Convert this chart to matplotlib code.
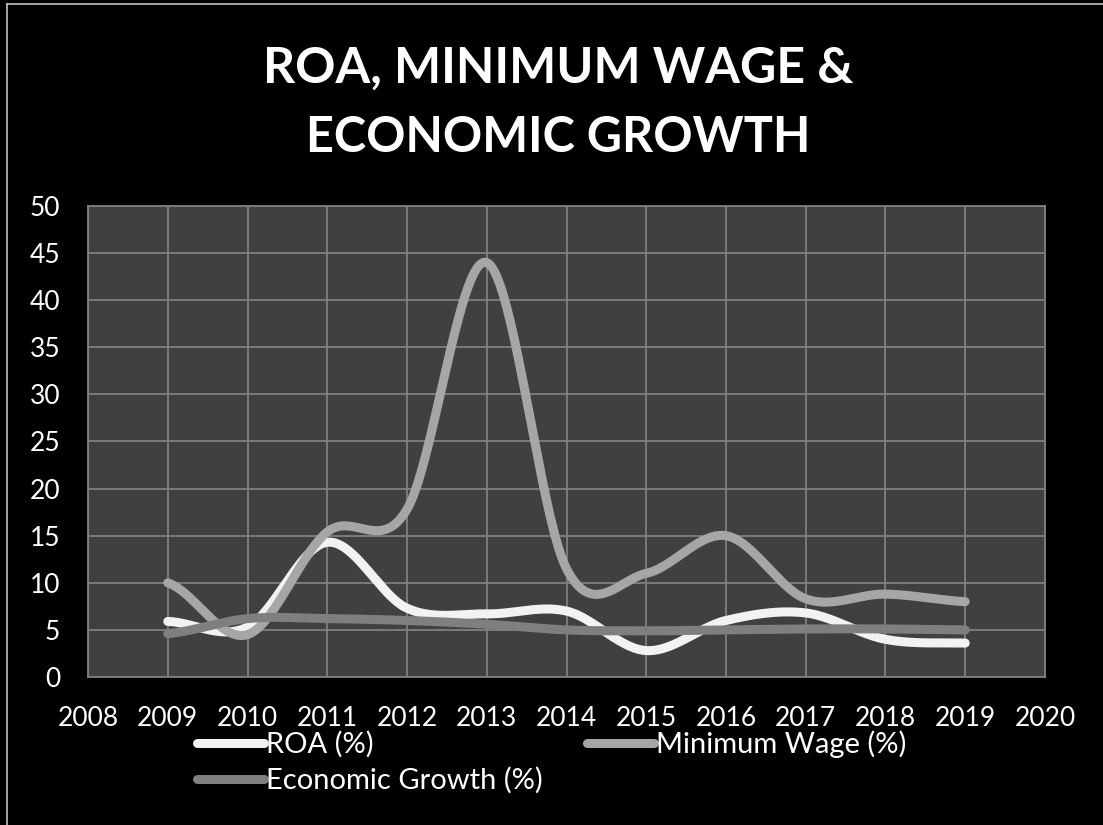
import numpy as np
import matplotlib.pyplot as plt
from matplotlib.lines import Line2D

# Annual series, 2009-2019
years = [2009, 2010, 2011, 2012, 2013, 2014, 2015, 2016, 2017, 2018, 2019]
roa = [5.9, 5.3, 14.3, 7.3, 6.7, 7.0, 2.8, 6.0, 6.8, 4.0, 3.6]
min_wage = [10.0, 4.5, 15.4, 17.8, 44.0, 11.5, 11.0, 15.0, 8.3, 8.8, 8.0]
econ_growth = [4.6, 6.2, 6.2, 6.0, 5.6, 5.0, 4.9, 5.0, 5.1, 5.1, 5.0]

series_names = ["ROA (%)", "Minimum Wage (%)", "Economic Growth (%)"]
series_colors = ["#f2f2f2", "#a6a6a6", "#7f7f7f"]


def smooth(x, y, steps=40):
    # Catmull-Rom style smoothing (like spreadsheet "smoothed line")
    x = np.asarray(x, float)
    y = np.asarray(y, float)
    n = len(y)
    m = np.empty(n)
    m[1:-1] = (y[2:] - y[:-2]) / 2
    m[0] = (y[1] - y[0]) / 2
    m[-1] = (y[-1] - y[-2]) / 2
    xs, ys = [], []
    for i in range(n - 1):
        t = np.linspace(0, 1, steps, endpoint=(i == n - 2))
        h00 = 2 * t**3 - 3 * t**2 + 1
        h10 = t**3 - 2 * t**2 + t
        h01 = -2 * t**3 + 3 * t**2
        h11 = t**3 - t**2
        ys.append(h00 * y[i] + h10 * m[i] + h01 * y[i + 1] + h11 * m[i + 1])
        xs.append(x[i] + t * (x[i + 1] - x[i]))
    return np.concatenate(xs), np.concatenate(ys)


plt.rcParams["font.family"] = ["Lato", "DejaVu Sans"]

fig = plt.figure(figsize=(11.03, 8.25), dpi=100, facecolor="black")
ax = fig.add_axes([0.0798, 0.1794, 0.8676, 0.5709])
ax.set_facecolor("#404040")

lines = []
for i, (vals, name, col) in enumerate(zip([roa, min_wage, econ_growth], series_names, series_colors)):
    sx, sy = smooth(years, vals)
    ln, = ax.plot(sx, sy, color=col, lw=6.5, solid_capstyle="round", label=name, zorder=3 + i)
    lines.append(ln)

ax.set_xlim(2008, 2020)
ax.set_ylim(0, 50)
ax.set_xticks(range(2008, 2021))
ax.set_yticks(range(0, 51, 5))
ax.grid(True, color="#808080", lw=1.3)
ax.set_axisbelow(True)
for sp in ax.spines.values():
    sp.set_color("#808080")
    sp.set_linewidth(1.3)
ax.tick_params(axis="x", length=0, pad=21, colors="white", labelsize=19)
ax.tick_params(axis="y", length=0, pad=20, colors="white", labelsize=19)

# Title
fig.text(0.506, 0.900, "ROA, MINIMUM WAGE &", ha="center", va="baseline",
         color="white", fontsize=36, fontweight="bold")
fig.text(0.506, 0.816, "ECONOMIC GROWTH", ha="center", va="baseline",
         color="white", fontsize=35, fontweight="bold")

# Legend below the plot, filled row by row
handles = [Line2D([], [], color=c, lw=6.5, solid_capstyle="round") for c in series_colors]
order = [0, 2, 1]
leg = fig.legend([handles[k] for k in order], [series_names[k] for k in order],
                 loc="upper left", bbox_to_anchor=(0.1786, 0.115),
                 ncol=2, frameon=False, fontsize=21, handlelength=2.3, handletextpad=0.07,
                 columnspacing=1.5, labelspacing=0.32, borderpad=0, borderaxespad=0)
for t in leg.get_texts():
    t.set_color("white")

# Thin frame at the top-left edge
fig.add_artist(Line2D([7 / 1103, 7 / 1103], [0, 1 - 4 / 825], color="#c0c0c0", lw=1.2))
fig.add_artist(Line2D([7 / 1103, 1], [1 - 4 / 825, 1 - 4 / 825], color="#c0c0c0", lw=1.2))

fig.savefig("out.png", dpi=100, facecolor="black")
